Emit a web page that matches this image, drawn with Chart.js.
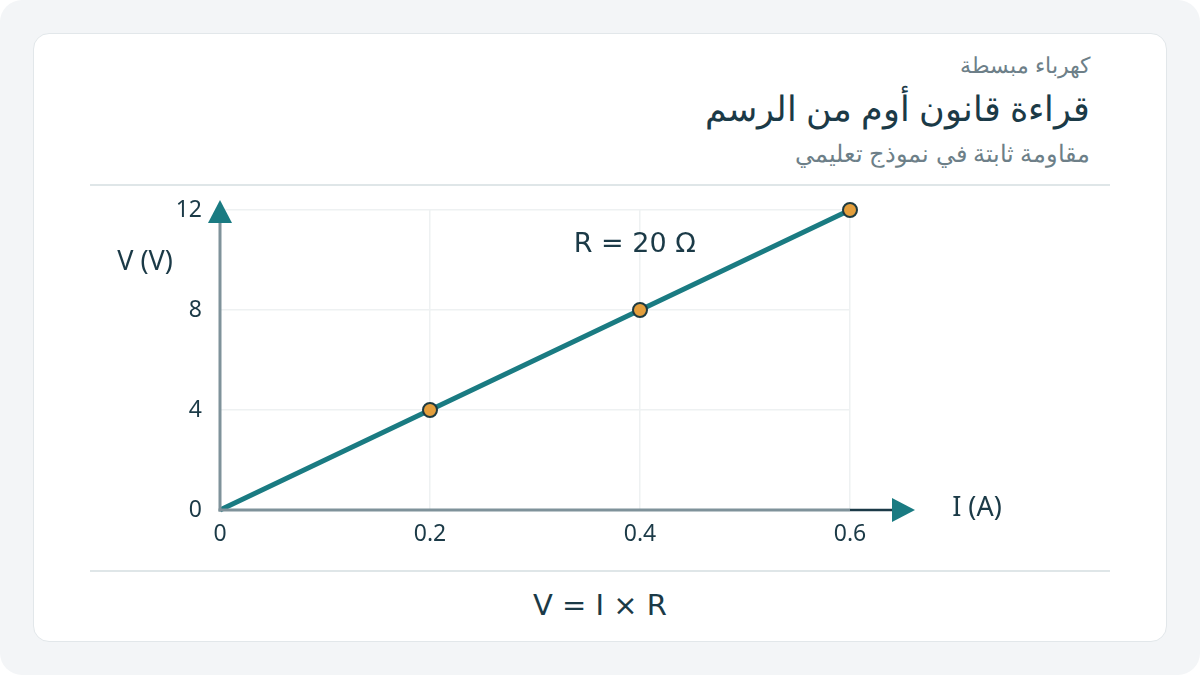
<!DOCTYPE html>
<html lang="ar">
<head>
<meta charset="utf-8">
<script src="https://cdn.jsdelivr.net/npm/chart.js@4"></script>
<style>
  html, body { margin: 0; padding: 0; background: #ffffff; }
  body { width: 1200px; height: 675px; position: relative; overflow: hidden; font-family: "Noto Sans", sans-serif; }
  .page { position: absolute; left: 0; top: 0; width: 1200px; height: 675px; background: #f3f5f7; border-radius: 22px; }
  .card { position: absolute; left: 33px; top: 33px; width: 1132px; height: 607px; background: #fff; border: 1px solid #e2e7ea; border-radius: 16px; }
  .txt { position: absolute; right: 110px; direction: rtl; white-space: nowrap; line-height: 1.4; }
  #kicker { top: 49px; font-size: 22px; color: #6d7f88; }
  #title { top: 83px; font-size: 35px; color: #1b3a47; }
  #subtitle { top: 136px; font-size: 24px; color: #6d7f88; }
  .sep { position: absolute; left: 90px; width: 1020px; height: 2px; background: #dfe6e8; }
  #formula { position: absolute; left: 0; width: 1200px; top: 588px; text-align: center; font-family: "DejaVu Sans", sans-serif; font-size: 29px; color: #1b3a47; }
  #chart { position: absolute; left: 0; top: 0; }
</style>
</head>
<body>
<div class="page"></div>
<div class="card"></div>
<div class="txt" id="kicker">كهرباء مبسطة</div>
<div class="txt" id="title">قراءة قانون أوم من الرسم</div>
<div class="txt" id="subtitle">مقاومة ثابتة في نموذج تعليمي</div>
<div class="sep" style="top:184px"></div>
<div class="sep" style="top:570px"></div>
<div id="formula">V = I × R</div>
<canvas id="chart" width="1200" height="675"></canvas>
<script>
// --- data ---
const currents = [0, 0.2, 0.4, 0.6];
const voltages = [0, 4, 8, 12];
const xTicks = [0, 0.2, 0.4, 0.6];
const yTicks = [0, 4, 8, 12];
const resistanceLabel = 'R = 20 Ω';
const xTitle = 'I (A)';
const yTitle = 'V (V)';

const darkText = '#1b3a47';
const teal = '#1a7b82';
const axisGray = '#7f929a';
const fontName = 'Noto Sans';

// --- axes, arrows and labels ---
const axisPlugin = {
    id: 'axisArrows',
    afterDatasetsDraw(chart) {
        const { ctx, chartArea, scales } = chart;
        const x0 = scales.x.getPixelForValue(0);
        const y0 = scales.y.getPixelForValue(0);
        const xEnd = scales.x.getPixelForValue(0.6);
        const yEnd = scales.y.getPixelForValue(12);
        ctx.save();

        // y axis
        ctx.strokeStyle = axisGray;
        ctx.lineWidth = 3;
        ctx.beginPath();
        ctx.moveTo(x0, y0 + 1.5);
        ctx.lineTo(x0, yEnd - 5);
        ctx.stroke();
        // x axis
        ctx.beginPath();
        ctx.moveTo(x0 - 1.5, y0);
        ctx.lineTo(xEnd, y0);
        ctx.stroke();
        ctx.strokeStyle = darkText;
        ctx.lineWidth = 2.5;
        ctx.beginPath();
        ctx.moveTo(xEnd, y0);
        ctx.lineTo(xEnd + 44, y0);
        ctx.stroke();

        // arrows
        ctx.fillStyle = teal;
        ctx.beginPath();
        ctx.moveTo(x0, yEnd - 10);
        ctx.lineTo(x0 - 12, yEnd + 13);
        ctx.lineTo(x0 + 12, yEnd + 13);
        ctx.closePath();
        ctx.fill();
        ctx.beginPath();
        ctx.moveTo(xEnd + 65, y0);
        ctx.lineTo(xEnd + 42, y0 - 12);
        ctx.lineTo(xEnd + 42, y0 + 12);
        ctx.closePath();
        ctx.fill();

        // titles
        ctx.fillStyle = darkText;
        ctx.font = '27px "' + fontName + '"';
        ctx.textAlign = 'center';
        ctx.textBaseline = 'middle';
        ctx.fillText(yTitle, chartArea.left - 75, scales.y.getPixelForValue(9.9));
        ctx.fillText(xTitle, xEnd + 127, y0 - 2);
        ctx.font = '27px "DejaVu Sans"';
        ctx.fillText(resistanceLabel, scales.x.getPixelForValue(0.395), scales.y.getPixelForValue(10.6));
        ctx.restore();
    }
};

new Chart(document.getElementById('chart'), {
    type: 'line',
    data: {
        datasets: [{
            data: currents.map((c, i) => ({ x: c, y: voltages[i] })),
            borderColor: teal,
            borderWidth: 5,
            pointRadius: [0, 7, 7, 7],
            pointBackgroundColor: '#e39e3c',
            pointBorderColor: '#1f3b40',
            pointBorderWidth: 2,
            tension: 0,
            clip: false
        }]
    },
    options: {
        responsive: false,
        animation: false,
        events: [],
        layout: { padding: { left: 0, top: 210, right: 350, bottom: 0 } },
        plugins: { legend: { display: false }, tooltip: { enabled: false } },
        scales: {
            x: {
                type: 'linear', min: 0, max: 0.6,
                afterFit: s => { s.height = 165; },
                afterBuildTicks: s => { s.ticks = xTicks.map(v => ({ value: v })); },
                grid: { color: '#eef1f2', lineWidth: 1.5, drawTicks: false },
                border: { display: false },
                ticks: { padding: 11, color: darkText, font: { family: fontName, size: 23 }, maxRotation: 0 }
            },
            y: {
                type: 'linear', min: 0, max: 12,
                afterFit: s => { s.width = 220; },
                afterBuildTicks: s => { s.ticks = yTicks.map(v => ({ value: v })); },
                grid: { color: '#eef1f2', lineWidth: 1.5, drawTicks: false },
                border: { display: false },
                ticks: { padding: 18, color: darkText, font: { family: fontName, size: 23 } }
            }
        }
    },
    plugins: [axisPlugin]
});
</script>
</body>
</html>
